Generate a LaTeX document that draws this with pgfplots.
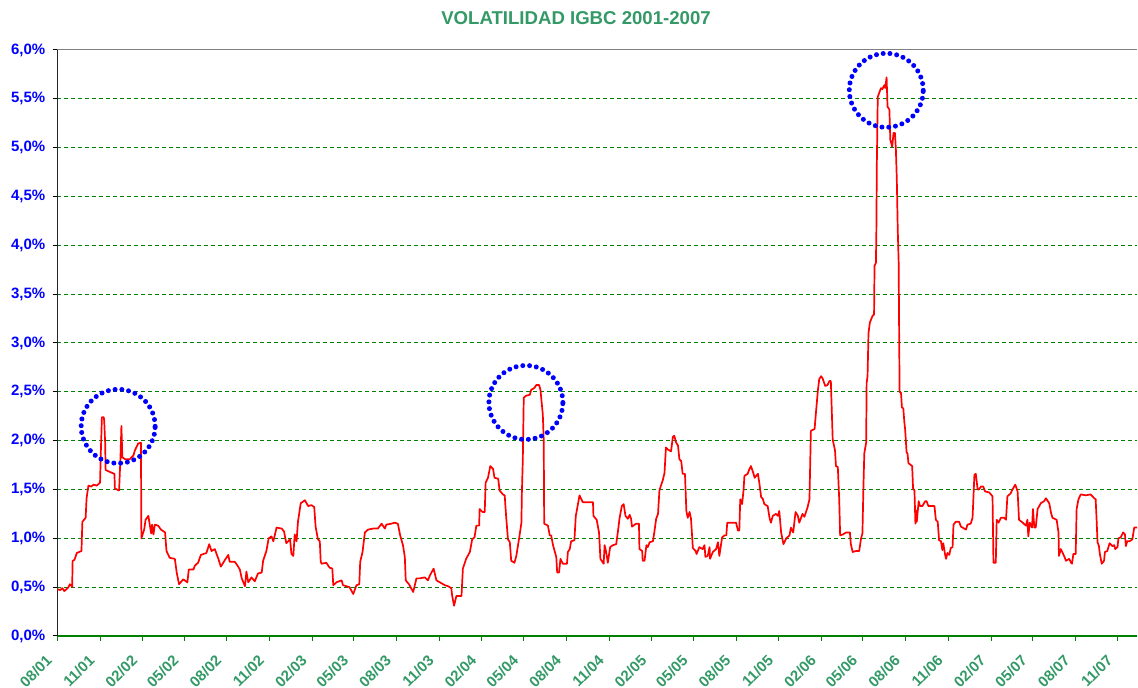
\documentclass[border=0pt]{standalone}
\usepackage{fontspec}
\setmainfont{Liberation Sans}
\usepackage{pgfplots}
\pgfplotsset{compat=1.18}
\definecolor{titlegreen}{RGB}{51,153,102}
\definecolor{gridgreen}{RGB}{0,128,0}
\definecolor{lblblue}{RGB}{0,0,255}
\begin{document}
\begin{tikzpicture}
\useasboundingbox (-28.65pt,-26pt) rectangle (540.35pt,318pt);
\begin{axis}[
  at={(0,0)}, anchor=south west,
  scale only axis, width=539.85pt, height=293pt,
  xmin=0, xmax=2324, ymin=0, ymax=6,
  axis x line*=bottom, axis y line*=left,
  x axis line style={gridgreen, line width=0.7pt},
  y axis line style={black!85, line width=0.7pt},
  tick align=outside,
  major tick length=2.3pt,
  xtick={0,92,184,273,365,457,549,638,730,822,914,1004,1096,1188,1280,1369,1461,1553,1645,1734,1826,1918,2010,2099,2191,2283},
  xticklabels={08/01,11/01,02/02,05/02,08/02,11/02,02/03,05/03,08/03,11/03,02/04,05/04,08/04,11/04,02/05,05/05,08/05,11/05,02/06,05/06,08/06,11/06,02/07,05/07,08/07,11/07},
  x tick style={gridgreen, line width=0.5pt},
  y tick style={black, line width=0.5pt},
  ytick={0,0.5,1,1.5,2,2.5,3,3.5,4,4.5,5,5.5,6},
  yticklabel={\pgfmathprintnumber[fixed,fixed zerofill,precision=1,use comma]{\tick}\%},
  ymajorgrids,
  grid style={gridgreen, line width=0.5pt, dash pattern=on 2pt off 1.5pt},
  tick label style={font=\fontsize{7.5}{9}\selectfont\bfseries},
  /pgf/number format/assume math mode=true,
  yticklabel style={text=lblblue, inner sep=0pt, anchor=east, xshift=-3.5pt},
  xticklabel style={text=titlegreen, inner sep=0pt, xshift=-4pt, yshift=-8.5pt, rotate=45, anchor=east},
]
\addplot[color=red, line width=0.85pt, line join=round, mark=none] coordinates {
(0,0.48)(6,0.47)(11,0.49)(15,0.46)(20,0.48)(24,0.50)(27,0.53)(31,0.51)(32,0.50)(33,0.77)(37,0.78)(42,0.85)(52,0.87)(54,1.17)(61,1.21)(63,1.41)(67,1.54)(73,1.53)(78,1.55)(85,1.54)(92,1.57)(94,1.93)(96,2.24)(100,2.24)(101,2.20)(103,1.98)(104,1.70)(113,1.68)(123,1.66)(124,1.51)(133,1.49)(136,1.83)(138,2.15)(140,1.83)(146,1.81)(156,1.81)(164,1.85)(167,1.90)(174,1.97)(180,1.98)(181,1.00)(187,1.09)(190,1.19)(196,1.23)(202,1.05)(204,1.14)(207,1.04)(210,1.14)(217,1.13)(223,1.09)(232,1.06)(235,0.87)(242,0.80)(253,0.79)(257,0.65)(262,0.53)(271,0.58)(280,0.55)(283,0.68)(293,0.68)(296,0.72)(303,0.75)(309,0.83)(321,0.85)(327,0.94)(332,0.87)(339,0.89)(346,0.80)(352,0.71)(361,0.78)(368,0.83)(371,0.76)(382,0.76)(388,0.72)(393,0.68)(397,0.59)(404,0.51)(407,0.66)(411,0.55)(418,0.60)(425,0.56)(432,0.64)(440,0.65)(443,0.77)(450,0.87)(455,1.00)(461,1.02)(465,0.97)(472,1.11)(483,1.10)(488,1.07)(493,0.95)(501,0.99)(504,0.84)(508,0.82)(511,1.04)(515,0.97)(518,1.17)(524,1.36)(533,1.39)(540,1.33)(547,1.34)(553,1.32)(556,1.12)(561,0.99)(565,0.97)
(567,0.76)(569,0.74)(579,0.75)(586,0.70)(592,0.69)(594,0.52)(601,0.55)(612,0.57)(615,0.52)(629,0.50)(637,0.43)(644,0.52)(650,0.53)(652,0.76)(657,0.86)(662,1.06)(669,1.09)(680,1.10)(690,1.10)(698,1.15)(705,1.10)(708,1.14)(719,1.15)(726,1.16)(733,1.15)(738,1.03)(744,0.93)(748,0.81)(750,0.57)(757,0.53)(766,0.45)(773,0.59)(780,0.59)(791,0.60)(798,0.57)(802,0.62)(810,0.69)(816,0.57)(827,0.54)(834,0.52)(841,0.51)(848,0.49)(850,0.41)(854,0.31)(859,0.41)(870,0.41)(873,0.69)(880,0.79)(888,0.86)(893,0.99)(898,1.01)(902,1.13)(908,1.13)(909,1.30)(915,1.27)(920,1.27)(922,1.57)(927,1.62)(932,1.74)(938,1.71)(941,1.62)(949,1.61)(952,1.49)(959,1.45)(963,1.44)(966,1.23)(970,0.99)(974,0.96)(977,0.77)(984,0.75)(988,0.82)(995,1.03)(999,1.16)(1000,1.47)(1002,1.81)(1004,2.44)(1009,2.46)(1017,2.47)(1020,2.52)(1027,2.54)(1031,2.57)(1037,2.57)(1040,2.52)(1045,2.27)(1047,2.01)(1048,1.15)(1056,1.13)(1060,1.03)(1063,1.03)(1067,0.93)(1074,0.81)(1076,0.65)(1080,0.65)(1083,0.79)(1088,0.74)(1097,0.74)(1099,0.86)(1103,0.89)(1106,0.97)(1113,0.98)(1116,1.23)(1118,1.28)(1124,1.44)(1128,1.40)(1131,1.37)(1138,1.37)
(1153,1.37)(1154,1.23)(1161,1.19)(1166,1.06)(1169,0.79)(1176,0.74)(1178,0.93)(1181,0.87)(1185,0.75)(1190,0.91)(1196,0.93)(1203,0.94)(1207,1.08)(1210,1.20)(1215,1.33)(1219,1.35)(1223,1.23)(1228,1.20)(1232,1.24)(1235,1.20)(1237,1.12)(1246,1.15)(1252,1.15)(1253,0.89)(1259,0.87)(1260,0.77)(1264,0.77)(1268,0.93)(1271,0.91)(1275,0.96)(1282,0.97)(1285,1.06)(1289,1.20)(1293,1.25)(1296,1.49)(1300,1.55)(1303,1.59)(1307,1.67)(1310,1.93)(1314,1.91)(1321,1.89)(1325,2.04)(1328,2.05)(1332,1.98)(1336,1.95)(1339,1.81)(1343,1.79)(1346,1.66)(1351,1.66)(1354,1.28)(1357,1.21)(1361,1.27)(1364,1.20)(1368,0.90)(1374,0.87)(1376,0.84)(1382,0.91)(1389,0.89)(1393,0.93)(1395,0.81)(1400,0.82)(1404,0.91)(1405,0.79)(1411,0.86)(1418,0.89)(1422,0.96)(1425,0.82)(1431,1.01)(1436,1.03)(1440,1.03)(1442,1.16)(1447,1.16)(1457,1.16)(1461,1.16)(1465,1.08)(1468,1.08)(1470,1.40)(1474,1.35)(1477,1.49)(1479,1.64)(1486,1.66)(1488,1.69)(1493,1.74)(1498,1.67)(1501,1.62)(1508,1.66)(1511,1.57)(1515,1.42)(1518,1.41)(1522,1.35)(1529,1.33)(1533,1.21)(1536,1.16)(1540,1.23)(1547,1.25)(1551,1.23)(1554,1.28)(1558,1.06)(1563,0.94)(1569,1.00)(1576,1.03)(1579,1.11)(1584,1.06)(1589,1.27)(1594,1.23)(1597,1.16)(1604,1.25)(1608,1.22)(1615,1.32)(1619,1.40)(1622,2.10)(1630,2.12)(1633,2.29)(1637,2.51)(1640,2.63)(1644,2.66)(1647,2.64)(1653,2.56)(1658,2.57)(1662,2.61)(1665,2.61)(1669,2.01)(1674,1.90)(1676,1.74)(1680,1.73)(1683,1.40)(1685,1.03)(1691,1.04)(1698,1.06)(1706,1.06)(1708,0.94)(1712,0.86)(1719,0.87)(1726,0.87)
(1730,1.00)(1733,1.05)(1735,1.50)(1737,1.87)(1741,1.98)(1742,2.59)(1744,2.66)(1746,3.10)(1749,3.21)(1755,3.28)(1758,3.29)(1759,3.79)(1762,3.82)(1763,4.16)(1764,4.84)(1766,5.52)(1769,5.56)(1773,5.61)(1776,5.60)(1780,5.64)(1782,5.61)(1785,5.72)(1787,5.42)(1791,5.39)(1793,5.08)(1797,5.01)(1800,5.15)(1803,5.15)(1805,4.98)(1807,4.67)(1809,4.16)(1811,3.82)(1812,3.10)(1813,2.50)(1816,2.49)(1818,2.34)(1821,2.33)(1823,2.20)(1825,2.11)(1828,1.88)(1830,1.87)(1832,1.77)(1840,1.74)(1842,1.51)(1845,1.49)(1847,1.15)(1848,1.29)(1850,1.17)(1854,1.38)(1857,1.33)(1862,1.33)(1868,1.38)(1871,1.38)(1875,1.33)(1888,1.33)(1891,1.19)(1895,1.17)(1898,0.98)(1902,0.97)(1905,0.88)(1907,0.95)(1911,0.83)(1913,0.79)(1916,0.85)(1920,0.83)(1923,0.90)(1927,0.91)(1929,1.14)(1934,1.17)(1941,1.17)(1945,1.12)(1952,1.10)(1956,1.09)(1959,1.14)(1966,1.15)(1970,1.21)(1974,1.65)(1977,1.66)(1981,1.50)(1984,1.50)
(1988,1.53)(1993,1.53)(1997,1.48)(2006,1.47)(2013,1.43)(2015,0.75)(2020,0.75)(2022,1.19)(2026,1.16)(2031,1.21)(2038,1.21)(2042,1.19)(2045,1.43)(2052,1.46)(2056,1.50)(2062,1.55)(2067,1.48)(2070,1.19)(2078,1.16)(2085,1.13)(2088,1.19)(2090,1.02)(2093,1.16)(2098,1.11)(2100,1.30)(2103,1.11)(2106,1.11)(2110,1.30)(2117,1.36)(2124,1.38)(2128,1.41)(2135,1.36)(2139,1.26)(2142,1.21)(2151,1.19)(2155,1.06)(2156,0.82)(2160,0.89)(2167,0.82)(2171,0.77)(2178,0.79)(2182,0.75)(2184,0.74)(2187,0.84)(2192,0.84)(2194,1.30)(2198,1.40)(2203,1.45)(2214,1.44)(2224,1.45)(2232,1.41)(2235,1.40)(2237,1.19)(2239,0.96)(2242,0.92)(2244,0.84)(2248,0.74)(2253,0.77)(2255,0.86)(2260,0.87)(2265,0.95)(2271,0.92)(2275,0.93)(2277,0.89)(2282,0.91)(2284,1.00)(2289,1.01)(2294,1.06)(2298,1.04)(2300,0.92)(2303,0.97)(2308,0.97)(2314,0.99)(2318,1.11)(2324,1.11)
};
\draw[gray, line width=0.5pt] (axis cs:0,6) -- (axis cs:2324,6);
\draw[lblblue, line width=2.5pt, line cap=round, dash pattern=on 0pt off 3.4pt] (axis cs:131,2.147) circle[radius=18.5pt];
\draw[lblblue, line width=2.5pt, line cap=round, dash pattern=on 0pt off 3.4pt] (axis cs:1008.6,2.391) circle[radius=18.5pt];
\draw[lblblue, line width=2.5pt, line cap=round, dash pattern=on 0pt off 3.4pt] (axis cs:1784.3,5.587) circle[radius=18.5pt];
\end{axis}
\node[font=\fontsize{9.3}{11}\selectfont\bfseries, text=titlegreen] at (259.35pt,309pt) {VOLATILIDAD IGBC 2001-2007};
\end{tikzpicture}
\end{document}
